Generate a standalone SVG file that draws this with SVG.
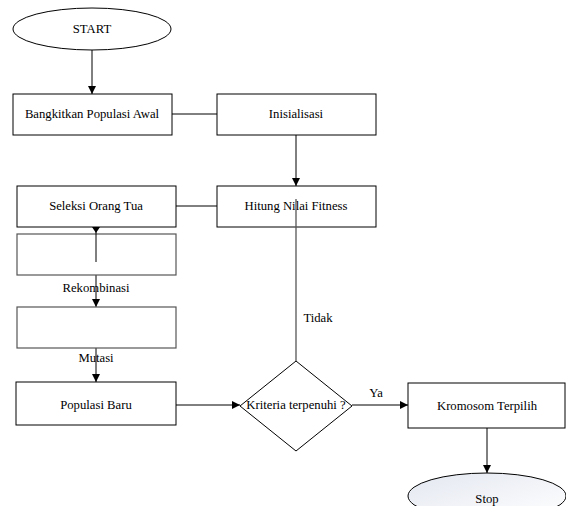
<svg xmlns="http://www.w3.org/2000/svg" width="566" height="506" viewBox="0 0 566 506">
<style>
text{font-family:'Liberation Serif','Times New Roman',serif;font-size:12.7px;fill:#000;text-anchor:middle}
.b{fill:#fff;stroke:#000;stroke-width:1}
.g{fill:#fff;stroke:#555;stroke-width:1.2}
.c{fill:none;stroke:#000;stroke-width:1}
.cg{fill:none;stroke:#555;stroke-width:1.3}
</style>
<defs>
<marker id="a" viewBox="0 0 10 10" refX="10" refY="5" markerWidth="8" markerHeight="8" markerUnits="userSpaceOnUse" orient="auto"><path d="M0,0L10,5L0,10z" fill="#000"/></marker>
<linearGradient id="sg" x1="0" y1="0" x2="1" y2="1"><stop offset="0" stop-color="#e3e7f0"/><stop offset="1" stop-color="#ffffff"/></linearGradient>
</defs>
<rect width="566" height="506" fill="#fff"/>
<g id="connectors">
<line class="c" x1="92" y1="50" x2="92" y2="94" marker-end="url(#a)"/>
<line class="c" x1="172" y1="114" x2="217" y2="114"/>
<line class="c" x1="296" y1="135" x2="296" y2="186" marker-end="url(#a)"/>
<line class="c" x1="176" y1="206" x2="217" y2="206"/>
<line class="c" x1="96" y1="275" x2="96" y2="307" marker-end="url(#a)"/>
<line class="c" x1="96" y1="348" x2="96" y2="382" marker-end="url(#a)"/>
<line class="c" x1="176" y1="405" x2="240" y2="405" marker-end="url(#a)"/>
<line class="c" x1="352" y1="405" x2="408" y2="405" marker-end="url(#a)"/>
<line class="c" x1="487" y1="428" x2="487" y2="473" marker-end="url(#a)"/>
</g>
<g id="start"><ellipse class="b" cx="92" cy="29" rx="79" ry="21"/><text x="92" y="33">START</text></g>
<g id="bangkitkan"><rect class="b" x="13" y="94" width="159" height="41"/><text x="92" y="118">Bangkitkan Populasi Awal</text></g>
<g id="inisialisasi"><rect class="b" x="217" y="94" width="159" height="41"/><text x="296" y="118">Inisialisasi</text></g>
<g id="seleksi"><rect class="b" x="17" y="186" width="159" height="41"/><text x="96" y="210">Seleksi Orang Tua</text></g>
<g id="hitung"><rect class="b" x="217" y="186" width="159" height="41"/><text x="296" y="210">Hitung Nilai Fitness</text></g>
<g id="rekombinasi"><rect class="g" x="17" y="234" width="159" height="41"/><text x="96" y="292">Rekombinasi</text></g>
<g id="mutasi"><rect class="g" x="17" y="307" width="159" height="41"/><text x="96" y="362">Mutasi</text></g>
<g id="populasi"><rect class="b" x="16" y="382" width="160" height="43"/><text x="96" y="409">Populasi Baru</text></g>
<g id="kriteria"><polygon class="b" points="296,361 352,406 296,451 240,406"/><text x="296" y="409">Kriteria terpenuhi ?</text></g>
<g id="kromosom"><rect class="b" x="408" y="383" width="157" height="45"/><text x="487" y="410">Kromosom Terpilih</text></g>
<g id="stop"><ellipse cx="487" cy="496" rx="79" ry="23" fill="url(#sg)" stroke="#000" stroke-width="1"/><text x="487" y="503">Stop</text></g>
<g id="connectors2">
<line class="c" x1="96" y1="227" x2="96" y2="262"/>
<path d="M92,227L100,227L96,233z" fill="#000"/>
<line class="cg" x1="296" y1="199" x2="296" y2="361"/>
<text x="318" y="322">Tidak</text>
<text x="376" y="397">Ya</text>
</g>
</svg>
